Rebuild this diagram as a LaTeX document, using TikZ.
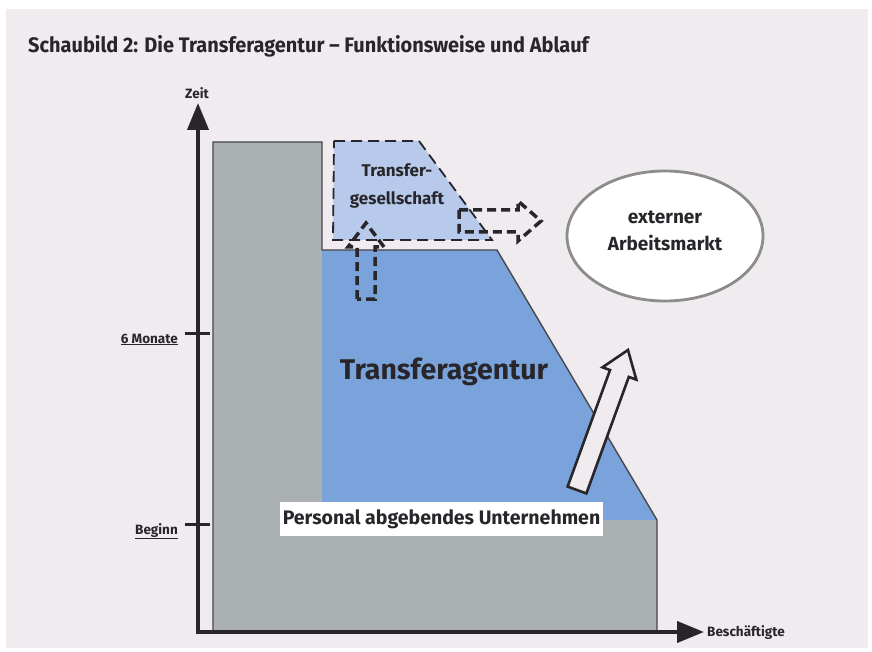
\documentclass[tikz,border=0pt]{standalone}
\usepackage{fontspec}
\setmainfont{Fira Sans}
\newfontfamily\titlefont{Fira Sans}[FakeStretch=0.95]
\usetikzlibrary{arrows.meta,shapes.geometric}

\definecolor{panel}{HTML}{EFEBEF}
\definecolor{greyarea}{HTML}{ABB0B3}
\definecolor{agentblue}{HTML}{7AA3DC}
\definecolor{paleblue}{HTML}{B7CAEC}
\definecolor{ink}{HTML}{28262A}
\definecolor{rimgrey}{HTML}{8C8C8C}

\tikzset{
  axis/.style={line width=4pt, draw=ink, -{Triangle[length=27pt,width=21pt]}},
  tickmark/.style={line width=3pt, draw=ink},
  axislabel/.style={font=\bfseries\fontsize{13.5}{15}\selectfont, text=ink, inner sep=1pt},
  outline/.style={draw=ink!85, line width=1.4pt, line join=miter},
  dashbox/.style={draw=ink, line width=1.8pt, dash pattern=on 11pt off 6pt},
  dasharrow/.style={draw=ink, line width=3.5pt, dash pattern=on 9pt off 5pt},
  bigtext/.style={font=\bfseries, text=ink}
}

\begin{document}
\begin{tikzpicture}[x=1pt, y=-1pt]
\useasboundingbox (0,0) rectangle (872,652);
% background panel
\fill[panel] (6,9) rectangle (868,648);

\node[anchor=base west, font=\titlefont\bfseries\fontsize{21}{23}\selectfont, text=ink, inner sep=0pt] (title) at (28,53)
  {Schaubild 2: Die Transferagentur – Funktionsweise und Ablauf};

% Personal abgebendes Unternehmen (grey) and Transferagentur (blue)
\fill[greyarea] (213,142) -- (322,142) -- (322,250) -- (497,250) -- (657,520) -- (657,632) -- (213,632) -- cycle;
\fill[agentblue] (322,250) -- (497,250) -- (657,520) -- (322,520) -- cycle;
\draw[outline] (213,632) -- (213,142) -- (322,142) -- (322,250) -- (497,250) -- (657,520) -- (657,632);

% Transfergesellschaft
\filldraw[fill=paleblue, dashbox] (334,141) -- (419,141) -- (492,240) -- (333,240) -- cycle;
\node[bigtext, align=center, font=\bfseries\fontsize{17}{28}\selectfont] (tg) at (397,186) {Transfer-\\gesellschaft};

% axes
\coordinate (origin) at (198,632);
\coordinate (ytip) at (198,103);
\coordinate (xtip) at (704,632);
\draw[axis] ([yshift=-2pt]origin) -- (ytip);
\draw[axis] ([xshift=-2pt]origin) -- (xtip);
\node[axislabel] (zeit) at (197,93) {Zeit};
\node[axislabel, anchor=west] (besch) at (706,633) {Beschäftigte};

% ticks
\coordinate (sixL) at (185,333);
\coordinate (sixR) at (210,333);
\coordinate (begL) at (185,524);
\coordinate (begR) at (210,524);
\draw[tickmark] (sixL) -- (sixR);
\draw[tickmark] (begL) -- (begR);
\node[axislabel, anchor=base east] (sechs) at (179,343) {\underline{6 Monate}};
\node[axislabel, anchor=base east] (beginn) at (179,534) {\underline{Beginn}};

% dashed arrows (Transfergesellschaft)
\begin{scope}[shift={(366,299)}, rotate=90]
  \draw[dasharrow] (0,-9) -- (52,-9) -- (52,-18) -- (76,0) -- (52,18) -- (52,9) -- (0,9) -- cycle;
\end{scope}
\begin{scope}[shift={(459,221)}]
  \draw[dasharrow] (0,-11) -- (59,-11) -- (59,-20) -- (82,0) -- (59,20) -- (59,11) -- (0,11) -- cycle;
\end{scope}

% arrow to the external labour market
\begin{scope}[shift={(577,490)}, rotate=70]
  \filldraw[fill=panel, draw=ink, line width=2.6pt, line join=miter]
    (0,-10) -- (124,-10) -- (124,-18) -- (149,0) -- (124,18) -- (124,10) -- (0,10) -- cycle;
\end{scope}

% labels
\node[bigtext, font=\bfseries\fontsize{28.5}{30}\selectfont] (agentur) at (444,372) {Transferagentur};
\node[fill=white, minimum width=323pt, minimum height=34pt, inner sep=0pt,
      font=\bfseries\fontsize{19.5}{22}\selectfont, text=ink] (pau) at (441.5,519) {Personal abgebendes Unternehmen};
\node[ellipse, draw=rimgrey, line width=2.8pt, fill=white, minimum width=196pt, minimum height=130pt] (markt) at (665,236) {};
\node[align=center, font=\bfseries\fontsize{19}{27}\selectfont, text=ink] (markttext) at (markt.center) [yshift=5pt] {externer\\Arbeitsmarkt};
\end{tikzpicture}
\end{document}
